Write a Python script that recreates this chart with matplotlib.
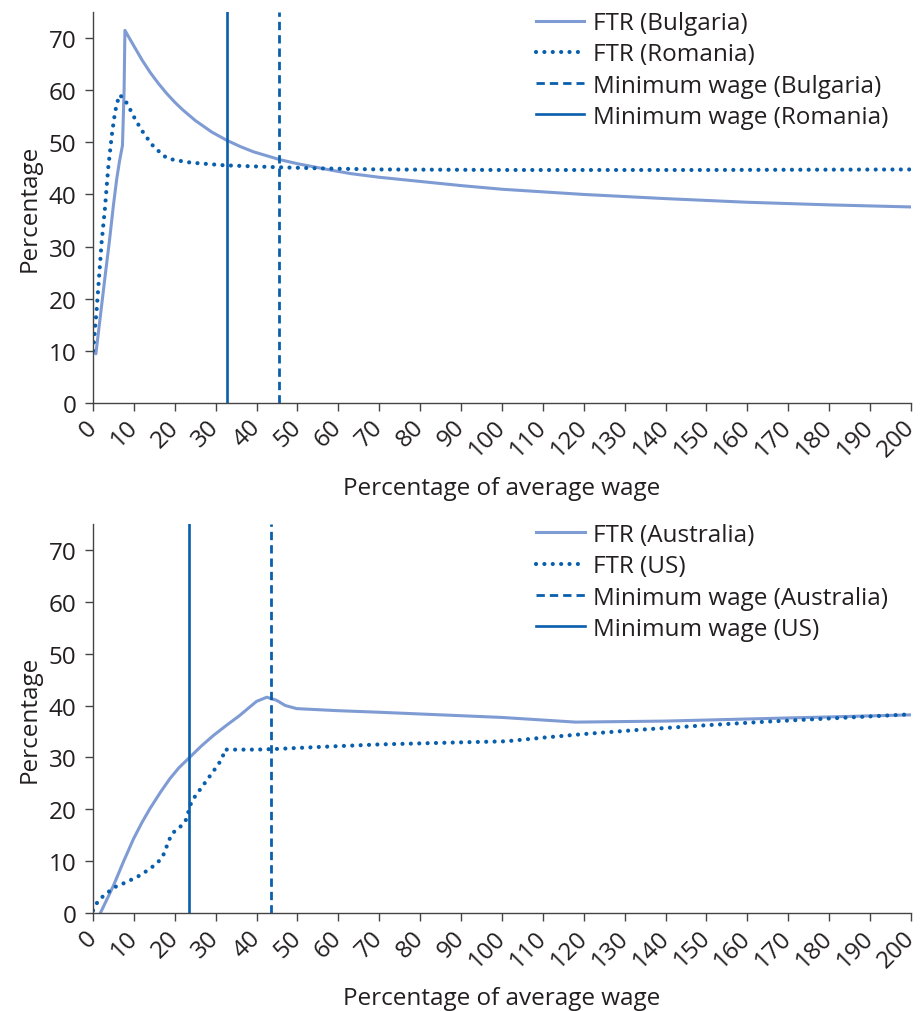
import numpy as np
import matplotlib
matplotlib.use("Agg")
import matplotlib.pyplot as plt

plt.rcParams['font.family'] = ['Open Sans', 'DejaVu Sans']

# Bulgaria / Romania
bg_x = [0, 0.7, 2, 3, 4, 5, 5.8, 6.5, 7.2, 7.6, 7.8, 10, 12, 14, 16, 18, 20, 22, 25, 29,
        32.7, 36, 39.2, 45.6, 50, 54, 58, 63, 70, 80, 90, 100, 120, 140, 160, 180, 200]
bg_y = [10, 9.4, 18, 24.6, 31, 38, 43, 46.5, 49.4, 60, 71.5, 68.5, 65.8, 63.4, 61.3, 59.4,
        57.7, 56.2, 54.2, 52.0, 50.4, 49.2, 48.2, 46.7, 45.9, 45.3, 44.7, 44.0, 43.3, 42.5,
        41.7, 41.0, 40.0, 39.2, 38.5, 38.0, 37.6]
ro_x = [0, 0.2, 0.9, 1.5, 2.1, 2.9, 3.7, 4.6, 5.4, 6.4, 7.5, 8.5, 10.4, 12.5, 14.9, 18, 20,
        24, 32, 46, 56, 70, 100, 150, 200]
ro_y = [10, 11.6, 18, 24.4, 30.8, 37.2, 45, 51.4, 55.9, 59.1, 58.5, 57.2, 54.3, 51.6, 49.1,
        47, 46.6, 46.1, 45.6, 45.2, 45.0, 44.8, 44.7, 44.7, 44.8]
mw_bg = 45.6
mw_ro = 32.7

# Australia / US
au_x = [1.8, 3.5, 5.0, 7.5, 9.9, 12, 13.9, 16.5, 18.8, 21, 23.5, 26.5, 29.4, 32.5, 35.9,
        38, 40, 42.5, 44.9, 47, 49.8, 60, 70, 85, 100, 110, 118, 140, 160, 180, 200]
au_y = [0, 2.8, 5.3, 10.0, 14.3, 17.5, 20.1, 23.3, 25.9, 28.0, 29.9, 32.2, 34.2, 36.1, 38.1,
        39.5, 40.8, 41.6, 41.0, 40.0, 39.4, 39.0, 38.7, 38.2, 37.7, 37.2, 36.8, 37.0, 37.4,
        37.8, 38.2]
us_x = [0, 1.0, 2.4, 4.0, 5.6, 7.4, 9.3, 11.1, 12.9, 14.5, 16.0, 17.2, 17.9, 18.6, 19.6, 21.3,
        22.6, 23.2, 23.7, 24.7, 25.8, 27.0, 28.2, 29.4, 30.6, 31.7, 32.1, 40, 44, 55, 70, 90,
        101, 110, 120, 135, 150, 165, 180, 190, 200]
us_y = [0.5, 2.0, 3.2, 4.2, 5.1, 5.7, 6.4, 7.1, 8.0, 8.9, 9.9, 11.2, 12.6, 14.1, 15.5, 16.6,
        17.7, 19.1, 20.7, 22.2, 23.4, 24.7, 26.0, 27.3, 28.6, 30.0, 31.5, 31.5, 31.6, 32.0, 32.5,
        32.9, 33.1, 33.8, 34.5, 35.4, 36.2, 36.9, 37.5, 37.9, 38.3]
mw_au = 43.5
mw_us = 23.5

light = '#7f9bd3'
dark = '#0a5fad'
fs = 17.5
txt = '#231f20'

fig = plt.figure(figsize=(9.21, 10.12), dpi=100)
ax1 = fig.add_axes([0.101, 0.601, 0.888, 0.386])
ax2 = fig.add_axes([0.101, 0.0968, 0.888, 0.3845])

panels = [
    (ax1, bg_x, bg_y, ro_x, ro_y, mw_bg, mw_ro, 'Bulgaria', 'Romania'),
    (ax2, au_x, au_y, us_x, us_y, mw_au, mw_us, 'Australia', 'US'),
]

for ax, x1, y1, x2, y2, m1, m2, c1, c2 in panels:
    ax.plot(x1, y1, color=light, lw=2.2, label='FTR (%s)' % c1)
    ax.plot(x2, y2, color=dark, lw=3.0, linestyle=(0, (0.01, 2.0)),
            dash_capstyle='round', label='FTR (%s)' % c2)
    ax.axvline(m1, color=dark, lw=2.0, linestyle=(0, (3, 1.8)),
               label='Minimum wage (%s)' % c1)
    ax.axvline(m2, color=dark, lw=1.9, label='Minimum wage (%s)' % c2)

    ax.set_xlim(0, 200)
    ax.set_ylim(0, 75)
    ax.set_xticks(np.arange(0, 201, 10))
    ax.set_yticks(np.arange(0, 71, 10))
    ax.tick_params(labelsize=fs, colors='#444444', labelcolor=txt, length=6, width=1)
    ax.tick_params(axis='x', pad=9)
    ax.tick_params(axis='y', pad=6)
    for lab in ax.get_xticklabels():
        lab.set_rotation(45)
        lab.set_ha('right')
        lab.set_va('center')
        lab.set_rotation_mode('anchor')
    ax.spines['top'].set_visible(False)
    ax.spines['right'].set_visible(False)
    for s in ('left', 'bottom'):
        ax.spines[s].set_color('#444444')
        ax.spines[s].set_linewidth(1)
    ax.set_xlabel('Percentage of average wage', fontsize=fs, color=txt, labelpad=10)
    ax.set_ylabel('Percentage', fontsize=fs, color=txt, labelpad=5)
    leg = ax.legend(loc='upper right', bbox_to_anchor=(0.99, 1.04), frameon=False,
                    fontsize=fs, handlelength=2.0, handletextpad=0.35, labelspacing=0.3,
                    borderaxespad=0.2)
    for t in leg.get_texts():
        t.set_color(txt)

fig.savefig('out.png', dpi=100)
